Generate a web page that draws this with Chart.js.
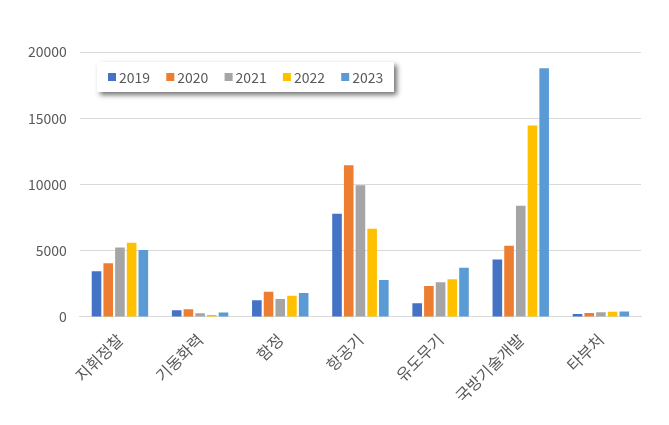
<!DOCTYPE html>
<html>
<head>
<meta charset="utf-8">
<script src="https://cdn.jsdelivr.net/npm/chart.js@4"></script>
<style>
  html, body { margin: 0; padding: 0; background: #fff; }
  #wrap { position: relative; width: 669px; height: 425px; }
</style>
</head>
<body>
<div id="wrap"><canvas id="budget"></canvas></div>
<script>
var categories = ['지휘정찰', '기동화력', '함정', '항공기', '유도무기', '국방기술개발', '타부처'];
var years = ['2019', '2020', '2021', '2022', '2023'];
var v2019 = [3450, 500, 1270, 7800, 1040, 4340, 230];
var v2020 = [4050, 580, 1900, 11450, 2330, 5380, 300];
var v2021 = [5250, 280, 1350, 9950, 2630, 8400, 350];
var v2022 = [5600, 150, 1600, 6650, 2850, 14450, 400];
var v2023 = [5050, 330, 1800, 2800, 3720, 18780, 410];
var colors = ['#4472C4', '#ED7D31', '#A5A5A5', '#FFC000', '#5B9BD5'];

var FONT = '"Noto Sans CJK KR", "Noto Sans", sans-serif';
var allValues = [v2019, v2020, v2021, v2022, v2023];

var datasets = [];
for (var i = 0; i < years.length; i++) {
  datasets.push({
    label: years[i],
    data: allValues[i],
    backgroundColor: colors[i],
    barPercentage: 0.82,
    categoryPercentage: 0.73
  });
}

// legend box with shadow, drawn inside the plot like the original
var boxLegend = {
  id: 'boxLegend',
  afterDraw: function (chart) {
    var ctx = chart.ctx;
    var x = 97, y = 62, w = 297, h = 30;
    ctx.save();
    ctx.shadowColor = 'rgba(0,0,0,0.55)';
    ctx.shadowBlur = 5;
    ctx.shadowOffsetX = 3;
    ctx.shadowOffsetY = 3;
    ctx.fillStyle = '#fff';
    ctx.fillRect(x, y, w, h);
    ctx.restore();

    ctx.save();
    ctx.font = '14px ' + FONT;
    ctx.textBaseline = 'middle';
    var sx = 108;
    chart.data.datasets.forEach(function (ds, k) {
      var px = sx + k * 58.3;
      ctx.fillStyle = ds.backgroundColor;
      ctx.fillRect(px, y + h / 2 - 4, 8, 8);
      ctx.fillStyle = '#595959';
      ctx.fillText(ds.label, px + 11, y + h / 2 + 1);
    });
    ctx.restore();
  }
};

var ctx = document.getElementById('budget').getContext('2d');
var budgetChart = new Chart(ctx, {
  type: 'bar',
  data: {
    labels: categories,
    datasets: datasets
  },
  options: {
    responsive: true,
    maintainAspectRatio: false,
    animation: false,
    layout: {
      padding: { left: 15, right: 28, top: 52, bottom: 6 }
    },
    plugins: {
      legend: { display: false },
      tooltip: { enabled: false }
    },
    scales: {
      x: {
        grid: { display: false, drawTicks: false },
        border: { display: true, color: '#D9D9D9' },
        ticks: {
          color: '#595959',
          font: { family: FONT, size: 16 },
          minRotation: 45,
          maxRotation: 45,
          padding: 13
        }
      },
      y: {
        min: 0,
        max: 20000,
        grid: { color: '#D9D9D9', drawTicks: false },
        border: { display: false },
        ticks: {
          stepSize: 5000,
          color: '#595959',
          font: { family: FONT, size: 14 },
          padding: 13,
          callback: function (v) { return String(v); }
        }
      }
    }
  },
  plugins: [boxLegend]
});
</script>
</body>
</html>
